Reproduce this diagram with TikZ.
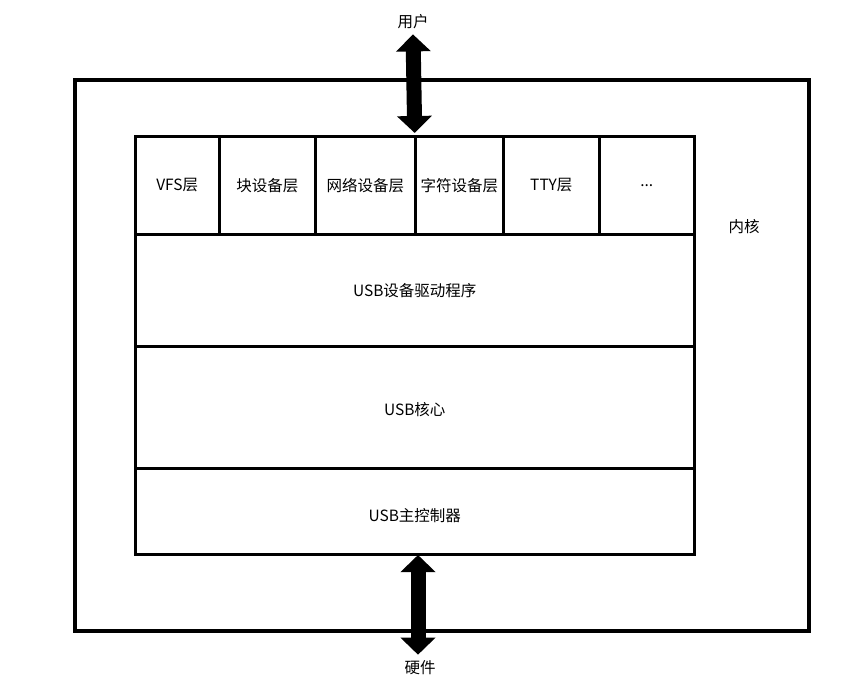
\documentclass[tikz,border=0pt]{standalone}
\usepackage{fontspec}
\setmainfont{Noto Sans CJK SC}
\usetikzlibrary{positioning,arrows.meta}

\begin{document}
\begin{tikzpicture}[x=1pt, y=-1pt,
  frame/.style={draw, line width=3.5pt, anchor=north west, inner sep=0pt},
  cell/.style={draw, line width=2.5pt, anchor=north west, inner sep=0pt, font=\fontsize{15.5}{18}\selectfont},
  tag/.style={inner sep=0pt, font=\fontsize{15.5}{18}\selectfont},
  bigarrow/.style={line width=15pt, {Triangle[length=17pt,width=34pt]}-{Triangle[length=17pt,width=34pt]}}]
\useasboundingbox (0,0) rectangle (864,691);
\node[frame, minimum width=734pt, minimum height=551pt] (kernel) at (73,78) {};
\node[tag] (kernellbl) at (744,227) {内核};
\node[cell, minimum width=559pt, minimum height=418pt] (stack) at (134,135) {};
% top row
\node[cell, minimum width=84pt,  minimum height=98pt] (vfs)  at (134,135) {VFS层};
\node[cell, minimum width=96pt,  minimum height=98pt] (blk)  at (218,135) {块设备层};
\node[cell, minimum width=100pt, minimum height=98pt] (net)  at (314,135) {网络设备层};
\node[cell, minimum width=88pt,  minimum height=98pt] (chr)  at (414,135) {字符设备层};
\node[cell, minimum width=96pt,  minimum height=98pt] (tty)  at (502,135) {TTY层};
\node[cell, minimum width=95pt,  minimum height=98pt] (more) at (598,135) {...};
% usb layers
\node[cell, minimum width=559pt, minimum height=112pt] (drv)  at (134,233) {USB设备驱动程序};
\node[cell, minimum width=559pt, minimum height=122pt, text height=18pt] (core) at (134,345) {USB核心};
\node[cell, minimum width=559pt, minimum height=86pt, text height=22pt]  (hcd)  at (134,467) {USB主控制器};
% user / hardware
\node[tag] (user) at (413,22) {用户};
\node[tag] (hw) at (420,668) {硬件};
\coordinate (hwtop) at (418,555);
\draw[bigarrow] ([yshift=-5pt]user.south) -- ([yshift=2pt]stack.north);
\draw[bigarrow] (hwtop) -- ([yshift=6pt]hwtop |- hw.north);
\end{tikzpicture}
\end{document}
